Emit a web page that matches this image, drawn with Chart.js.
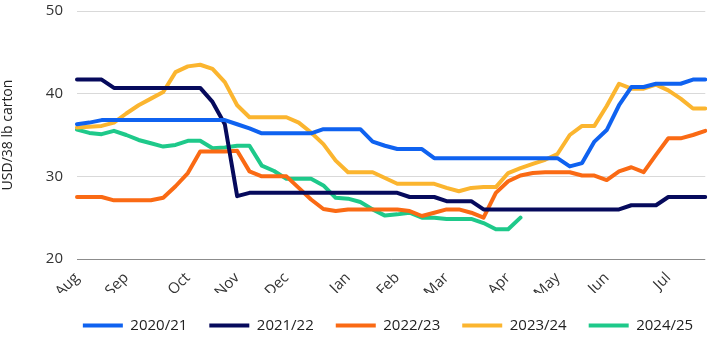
<!DOCTYPE html>
<html>
<head>
<meta charset="utf-8">
<script src="https://cdn.jsdelivr.net/npm/chart.js@4.4.1/dist/chart.umd.min.js"></script>
<style>
  html, body { margin: 0; padding: 0; background: #fff; }
  #wrap { width: 720px; height: 340px; }
</style>
</head>
<body>
<div id="wrap"><canvas id="myChart" width="720" height="340"></canvas></div>
<script>
/** Weekly categories, month name on the first week of each month */
let weeks = [
  "Aug", "", "", "", "Sep", "", "", "", "", "Oct", "", "", "",
  "Nov", "", "", "", "Dec", "", "", "", "", "Jan", "", "", "",
  "Feb", "", "", "", "Mar", "", "", "", "", "Apr", "", "", "",
  "May", "", "", "", "Jun", "", "", "", "", "Jul", "", "", ""
];

let yTicks = [20, 30, 40, 50];

let s2020 = [36.3, 36.5, 36.8, 36.8, 36.8, 36.8, 36.8, 36.8, 36.8, 36.8, 36.8, 36.8, 36.8,
  36.3, 35.8, 35.2, 35.2, 35.2, 35.2, 35.2, 35.7, 35.7, 35.7, 35.7, 34.2, 33.7,
  33.3, 33.3, 33.3, 32.2, 32.2, 32.2, 32.2, 32.2, 32.2, 32.2, 32.2, 32.2, 32.2,
  32.2, 31.2, 31.6, 34.2, 35.6, 38.6, 40.8, 40.8, 41.2, 41.2, 41.2, 41.7, 41.7];

let s2021 = [41.7, 41.7, 41.7, 40.7, 40.7, 40.7, 40.7, 40.7, 40.7, 40.7, 40.7, 39.0, 36.3,
  27.6, 28.0, 28.0, 28.0, 28.0, 28.0, 28.0, 28.0, 28.0, 28.0, 28.0, 28.0, 28.0,
  28.0, 27.5, 27.5, 27.5, 27.0, 27.0, 27.0, 26.0, 26.0, 26.0, 26.0, 26.0, 26.0,
  26.0, 26.0, 26.0, 26.0, 26.0, 26.0, 26.5, 26.5, 26.5, 27.5, 27.5, 27.5, 27.5];

let s2022 = [27.5, 27.5, 27.5, 27.1, 27.1, 27.1, 27.1, 27.4, 28.8, 30.4, 33.0, 33.0, 33.0,
  33.1, 30.6, 30.0, 30.0, 30.0, 28.6, 27.2, 26.05, 25.8, 26.0, 26.0, 26.0, 26.0,
  26.0, 25.8, 25.2, 25.6, 26.0, 26.0, 25.6, 25.0, 28.0, 29.4, 30.1, 30.4, 30.5,
  30.5, 30.5, 30.1, 30.1, 29.55, 30.6, 31.1, 30.5, 32.6, 34.6, 34.6, 35.0, 35.5];

let s2023 = [35.9, 36.0, 36.1, 36.5, 37.6, 38.6, 39.4, 40.2, 42.6, 43.3, 43.5, 43.0, 41.4,
  38.6, 37.15, 37.15, 37.15, 37.15, 36.5, 35.3, 33.9, 31.9, 30.5, 30.5, 30.5, 29.8,
  29.1, 29.1, 29.1, 29.1, 28.6, 28.2, 28.6, 28.7, 28.7, 30.4, 31.0, 31.5, 32.0,
  32.7, 35.0, 36.1, 36.1, 38.5, 41.2, 40.6, 40.6, 41.1, 40.4, 39.4, 38.2, 38.2];

let s2024 = [35.65, 35.25, 35.1, 35.5, 35.0, 34.4, 34.0, 33.6, 33.8, 34.3, 34.3, 33.4, 33.5,
  33.7, 33.7, 31.3, 30.65, 29.7, 29.7, 29.7, 28.9, 27.4, 27.3, 26.9, 26.0, 25.25,
  25.4, 25.6, 25.0, 25.0, 24.85, 24.85, 24.85, 24.35, 23.6, 23.6, 25.0];

let seasons = ["2020/21", "2021/22", "2022/23", "2023/24", "2024/25"];
let colors = ["#0f62f0", "#060a5c", "#fa6a14", "#fbb52f", "#1ec98a"];
let series = [s2020, s2021, s2022, s2023, s2024];

// legend sits a bit right of the canvas centre in the original
const legendShift = {
  id: "legendShift",
  afterLayout(chart) {
    chart.legend.left += 31;
    chart.legend.right += 31;
    chart.legend.top += 3;
    chart.legend.bottom += 3;
  },
};

const ctx = document.getElementById("myChart").getContext("2d");

let chart = new Chart(ctx, {
  type: "line",
  data: {
    labels: weeks,
    datasets: series.map((s, i) => ({
      label: seasons[i],
      data: s,
      borderColor: colors[i],
      backgroundColor: colors[i],
      borderWidth: 4,
      borderCapStyle: "round",
      borderJoinStyle: "round",
      pointRadius: 0,
      tension: 0,
      fill: false,
    })),
  },
  plugins: [legendShift],
  options: {
    responsive: false,
    animation: false,
    layout: { padding: { top: 11, right: 6, left: 0, bottom: 0 } },
    plugins: {
      legend: {
        position: "bottom",
        labels: {
          usePointStyle: true,
          pointStyle: "line",
          pointStyleWidth: 40,
          padding: 22,
          color: "#222",
          font: { family: "'Open Sans'", size: 15 },
        },
      },
      tooltip: { enabled: false },
    },
    scales: {
      x: {
        grid: { display: false },
        border: { display: false },
        ticks: {
          autoSkip: false,
          maxRotation: 45,
          minRotation: 45,
          padding: 2,
          color: "#333",
          font: { family: "'Open Sans'", size: 15 },
        },
        afterFit: (scale) => {
          scale.height = 34;
          scale.paddingTop = 0;
          scale.paddingBottom = 0;
        },
      },
      y: {
        min: 20,
        max: 50,
        afterBuildTicks: (scale) => { scale.ticks = yTicks.map(v => ({ value: v })); },
        grid: {
          drawTicks: false,
          color: (c) => (c.tick && c.tick.value === 20 ? "#8c8c8c" : "#d9d9d9"),
        },
        border: { display: false },
        ticks: {
          padding: 14,
          color: "#333",
          font: { family: "'Open Sans'", size: 15 },
        },
        title: {
          display: true,
          text: "USD/38 lb carton",
          color: "#222",
          font: { family: "'Open Sans'", size: 14 },
          padding: { top: 0, bottom: 4 },
        },
        afterFit: (scale) => {
          scale.width = 77;
          scale.paddingTop = 0;
          scale.paddingBottom = 0;
        },
      },
    },
  },
});
</script>
</body>
</html>
